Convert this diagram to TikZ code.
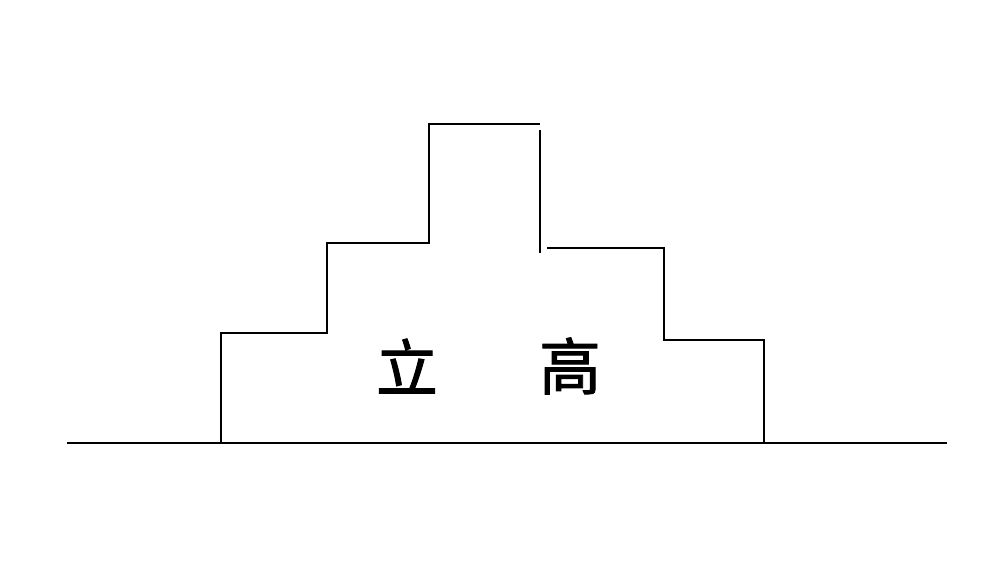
\documentclass[tikz,border=0pt]{standalone}
\usepackage{fontspec}
\newfontfamily\cjk[FakeBold=1.5]{Noto Sans CJK SC}
\usetikzlibrary{positioning}

\begin{document}
\begin{tikzpicture}[x=0.25mm,y=-0.25mm,line width=2pt,line cap=rect]
    \useasboundingbox (0,0) rectangle (1008,582);

    % 地面
    \draw (68,443) -- (946,443);

    % 左侧台阶
    \draw (221,443) -- (221,333) -- (327,333) -- (327,243) -- (429,243) -- (429,124) -- (539,124);

    % 右侧台阶
    \draw (540,131) -- (540,252);
    \draw (548,248) -- (664,248) -- (664,340) -- (764,340) -- (764,443);

    % 文字
    \node[font=\cjk\fontsize{44}{44}\selectfont] (li) at (407,366) {立};
    \node[font=\cjk\fontsize{44}{44}\selectfont] (gao) at (570,366) {高};
  \end{tikzpicture}
\end{document}
